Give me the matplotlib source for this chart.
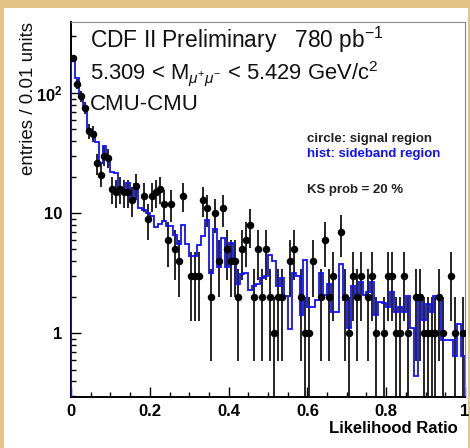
import matplotlib
matplotlib.use('Agg')
import matplotlib.pyplot as plt
import numpy as np
from matplotlib.patches import Rectangle
from matplotlib.ticker import FixedLocator, FixedFormatter, NullFormatter

plt.rcParams['font.family'] = ['Liberation Sans', 'DejaVu Sans']
plt.rcParams['mathtext.fontset'] = 'custom'
plt.rcParams['mathtext.rm'] = 'Liberation Sans'
plt.rcParams['mathtext.it'] = 'Liberation Sans:italic'
plt.rcParams['mathtext.bf'] = 'Liberation Sans:bold'

# 100 bins of 0.01 in likelihood ratio
n_bins = 100
lr_min, lr_max = 0.0, 1.0

# signal region counts (circles)
signal = [195, 120, 94, 75, 48, 46, 26, 21, 30, 29,
          16, 15, 16, 15, 15, 13, 17, 0, 14, 9,
          14, 15, 16, 12, 6, 12, 5, 4, 14, 0,
          3, 3, 3, 13, 11, 2, 10, 4, 11, 5,
          4, 4, 2, 5, 6, 8, 2, 5, 2, 5,
          2, 1, 2, 2, 0, 4, 5, 0, 2, 1,
          1, 4, 0, 2, 6, 2, 3, 0, 7, 2,
          1, 3, 2, 3, 0, 2, 3, 1, 0, 1,
          3, 3, 1, 1, 3, 1, 0, 2, 2, 1,
          1, 1, 1, 2, 1, 0, 3, 1, 0, 1]

# sideband region (blue histogram, normalised)
sideband = [196, 133, 97, 75, 48, 47, 39, 26, 36, 28,
            22, 21.5, 16, 15, 18, 13.3, 17.5, 11, 10.7, 10,
            9.4, 7.7, 8.2, 8.7, 7.9, 7.9, 6.6, 5.5, 8.0, 5.5,
            4.4, 4.4, 5.4, 6.5, 8.8, 3.2, 7.4, 3.6, 6.2, 3.6,
            5.7, 4.0, 2.6, 3.1, 3.2, 2.3, 2.5, 2.6, 2.9, 3.0,
            4.5, 4.0, 2.5, 2.9, 2.06, 1.08, 3.2, 3.0, 1.42, 4.1,
            1.67, 1.67, 1.9, 3.2, 2.1, 2.6, 1.5, 1.5, 3.8, 1.9,
            1.1, 2.5, 2.1, 2.7, 2.1, 2.2, 2.7, 1.42, 1.84, 1.8,
            1.67, 2.2, 1.5, 1.67, 1.5, 2.05, 1.1, 0.44, 2.1, 1.29,
            1.75, 1.5, 2.05, 2.0, 0.88, 0.88, 0.88, 0.65, 1.2, 0.65]

x_ticks = [0, 0.2, 0.4, 0.6, 0.8, 1.0]
x_ticklabels = ['0', '0.2', '0.4', '0.6', '0.8', '1']
y_ticks = [1, 10, 100]
y_ticklabels = ['1', '10', r'$\mathbf{10^{2}}$']

W, H = 470, 448
fig = plt.figure(figsize=(W / 100, H / 100), dpi=100)
fig.patch.set_facecolor('#e4c386')
# white slide panel behind everything
fig.patches.append(Rectangle((4 / W, 0), (W - 6) / W, (H - 8) / H,
                             transform=fig.transFigure, facecolor='white',
                             edgecolor='none', zorder=-10))

ax = fig.add_axes([71 / W, (H - 397) / H, (465 - 71) / W, (397 - 22) / H])
ax.set_facecolor('white')

edges = np.linspace(lr_min, lr_max, n_bins + 1)
centers = 0.5 * (edges[:-1] + edges[1:])
sig = np.array(signal, dtype=float)
err = np.sqrt(sig)
mask = sig > 0

ax.stairs(sideband, edges, baseline=1e-3, color='#1010ff', lw=1.3, zorder=3)
ax.vlines(centers[mask], np.maximum(sig[mask] - err[mask], 1e-3),
          sig[mask] + err[mask], color='black', lw=1.2, zorder=2)
ax.plot(centers[mask], sig[mask], 'o', color='black', ms=4.4, zorder=4)

ax.set_yscale('log')
ax.set_xlim(lr_min, lr_max)
ax.set_ylim(0.296, 390)

ax.xaxis.set_major_locator(FixedLocator(x_ticks))
ax.xaxis.set_major_formatter(FixedFormatter(x_ticklabels))
ax.xaxis.set_minor_locator(FixedLocator(np.arange(0, 1.0001, 0.05)))
ax.yaxis.set_major_locator(FixedLocator(y_ticks))
ax.yaxis.set_major_formatter(FixedFormatter(y_ticklabels))
minors = [m * 10.0 ** d for d in (-1, 0, 1, 2) for m in range(2, 10)]
ax.yaxis.set_minor_locator(FixedLocator(minors))
ax.yaxis.set_minor_formatter(NullFormatter())

ax.tick_params(which='both', direction='in', top=False, right=False,
               width=1.0, colors='black')
ax.tick_params(which='major', length=7)
ax.tick_params(which='minor', length=3.5)
ax.tick_params(axis='x', which='major', pad=5, labelsize=12)
ax.tick_params(axis='y', which='major', pad=6, labelsize=12)
for lab in ax.get_xticklabels() + ax.get_yticklabels():
    lab.set_fontweight('bold')

for side in ('left', 'bottom'):
    ax.spines[side].set_linewidth(1.4)
    ax.spines[side].set_color('black')
for side in ('top', 'right'):
    ax.spines[side].set_linewidth(0.8)
    ax.spines[side].set_color('#888888')

ax.set_xlabel('Likelihood Ratio', fontsize=12, fontweight='bold', loc='right')
ax.xaxis.set_label_coords((458 - 71) / 394, (397 - 421) / 375)
ax.set_ylabel('entries / 0.01 units', fontsize=13.5, loc='top', color='#111111')
ax.yaxis.set_label_coords((37 - 71) / 394, 1.0)


def fx(x):
    return x / W


def fy(y):
    return 1 - y / H


txt = '#111111'
fig.text(fx(90), fy(48), r'CDF II Preliminary   780 pb$^{-1}$', fontsize=16.4,
         color=txt, va='baseline')
fig.text(fx(90), fy(79), r'5.309 < M$_{\mu^{+}\mu^{-}}$ < 5.429 GeV/c$^{2}$',
         fontsize=15.8, color=txt, va='baseline')
fig.text(fx(90), fy(110), 'CMU-CMU', fontsize=16, color=txt, va='baseline')

fig.text(fx(307), fy(142), 'circle: signal region', fontsize=9.5,
         fontweight='bold', color='#222222', va='baseline')
fig.text(fx(307), fy(157), 'hist: sideband region', fontsize=9.5,
         fontweight='bold', color='#1010ff', va='baseline')
fig.text(fx(307), fy(193), 'KS prob = 20 %', fontsize=9.5,
         fontweight='bold', color='#222222', va='baseline')

fig.savefig('out.png', dpi=100, facecolor=fig.get_facecolor())
